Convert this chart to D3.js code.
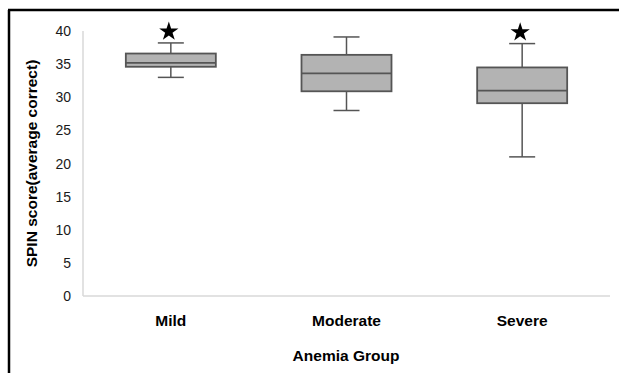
<!DOCTYPE html>
<html>
<head>
<meta charset="utf-8">
<script src="https://cdn.jsdelivr.net/npm/d3@7"></script>
<style>
  body { margin: 0; background: #fff; }
  text { font-family: "Liberation Sans", "DejaVu Sans", sans-serif; }
</style>
</head>
<body>
<svg class="boxChart" width="619" height="373"></svg>
<script>
const categories = ["Mild", "Moderate", "Severe"];
const whiskerLow = [33, 28, 21];
const q1 = [34.6, 30.9, 29.1];
const median = [35.2, 33.6, 31.0];
const q3 = [36.6, 36.4, 34.5];
const whiskerHigh = [38.2, 39.1, 38.1];
const starValue = [39.9, null, 39.8];
const yTicks = [0, 5, 10, 15, 20, 25, 30, 35, 40];

const svg = d3.select(".boxChart");
const width = +svg.attr("width");
const height = +svg.attr("height");

// outer frame (only top and left edges show in the crop)
svg.append("line").attr("x1", 8).attr("x2", width).attr("y1", 10).attr("y2", 10)
    .attr("stroke", "#000").attr("stroke-width", 2.5);
svg.append("line").attr("x1", 9).attr("x2", 9).attr("y1", 10).attr("y2", height)
    .attr("stroke", "#000").attr("stroke-width", 2.5);

const x = d3.scaleBand().domain(categories).range([83, 610]);
const y = d3.scaleLinear().domain([0, 40]).range([296, 31]);

// axes lines
svg.append("line").attr("x1", 83).attr("x2", 83).attr("y1", y(40)).attr("y2", y(0))
    .attr("stroke", "#d9d9d9").attr("stroke-width", 1.5);
svg.append("line").attr("x1", 83).attr("x2", 610).attr("y1", y(0)).attr("y2", y(0))
    .attr("stroke", "#d9d9d9").attr("stroke-width", 1.5);

// y tick labels
svg.selectAll(".ytick")
    .data(yTicks)
    .enter().append("text")
    .attr("class", "ytick")
    .attr("x", 71)
    .attr("y", d => y(d))
    .attr("dy", "0.36em")
    .attr("text-anchor", "end")
    .attr("font-size", 14)
    .attr("fill", "#1a1a1a")
    .text(d => d);

// category labels
svg.selectAll(".xlabel")
    .data(categories)
    .enter().append("text")
    .attr("class", "xlabel")
    .attr("x", d => x(d) + x.bandwidth() / 2)
    .attr("y", 326)
    .attr("text-anchor", "middle")
    .attr("font-size", 15.5)
    .attr("font-weight", "bold")
    .text(d => d);

svg.append("text")
    .attr("x", 346).attr("y", 361)
    .attr("text-anchor", "middle")
    .attr("font-size", 15.5).attr("font-weight", "bold")
    .text("Anemia Group");

svg.append("text")
    .attr("transform", `translate(37, ${(y(0) + y(40)) / 2}) rotate(-90)`)
    .attr("text-anchor", "middle")
    .attr("font-size", 15.5).attr("font-weight", "bold")
    .text("SPIN score(average correct)");

const boxW = 90;
const capW = 26;
const stroke = "#555";

const groups = svg.selectAll(".box")
    .data(categories)
    .enter().append("g")
    .attr("class", "box")
    .attr("transform", d => `translate(${x(d) + x.bandwidth() / 2},0)`);

// whiskers
groups.append("line")
    .attr("x1", 0).attr("x2", 0)
    .attr("y1", (d, i) => y(whiskerHigh[i]))
    .attr("y2", (d, i) => y(whiskerLow[i]))
    .attr("stroke", stroke).attr("stroke-width", 1.5);
groups.append("line")
    .attr("x1", -capW / 2).attr("x2", capW / 2)
    .attr("y1", (d, i) => y(whiskerHigh[i]))
    .attr("y2", (d, i) => y(whiskerHigh[i]))
    .attr("stroke", stroke).attr("stroke-width", 1.5);
groups.append("line")
    .attr("x1", -capW / 2).attr("x2", capW / 2)
    .attr("y1", (d, i) => y(whiskerLow[i]))
    .attr("y2", (d, i) => y(whiskerLow[i]))
    .attr("stroke", stroke).attr("stroke-width", 1.5);

// boxes
groups.append("rect")
    .attr("x", -boxW / 2)
    .attr("width", boxW)
    .attr("y", (d, i) => y(q3[i]))
    .attr("height", (d, i) => y(q1[i]) - y(q3[i]))
    .attr("fill", "#b3b3b3")
    .attr("stroke", stroke).attr("stroke-width", 1.8);
groups.append("line")
    .attr("x1", -boxW / 2).attr("x2", boxW / 2)
    .attr("y1", (d, i) => y(median[i]))
    .attr("y2", (d, i) => y(median[i]))
    .attr("stroke", stroke).attr("stroke-width", 1.8);

// significance stars
groups.filter((d, i) => starValue[i] != null)
    .append("path")
    .attr("d", d3.symbol().type(d3.symbolStar).size(115))
    .attr("transform", d => `translate(-2,${y(starValue[categories.indexOf(d)])})`)
    .attr("fill", "#000");
</script>
</body>
</html>
